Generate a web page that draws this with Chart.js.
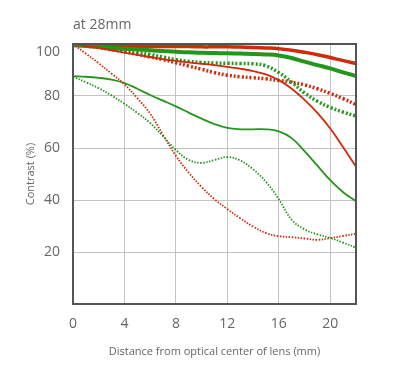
<!DOCTYPE html>
<html>
<head>
<meta charset="utf-8">
<script src="https://cdn.jsdelivr.net/npm/chart.js@4.4.1/dist/chart.umd.min.js"></script>
<style>
  html, body { margin: 0; padding: 0; background: #fff; }
  #wrap { width: 400px; height: 382px; }
</style>
</head>
<body>
<div id="wrap"><canvas id="mtf"></canvas></div>
<script>
// distance from optical center (mm)
const distance = [0, 1, 2, 3, 4, 5, 6, 7, 8, 9, 10, 11, 12, 13, 14, 15, 16, 17, 18, 19, 20, 21, 22];

// contrast (%)
const redThick = [99.5, 99.5, 99.4, 99.3, 99.2, 99.1, 99, 99, 99, 99, 98.9, 98.9, 98.9, 98.8, 98.7, 98.5, 98.2, 97.6, 96.8, 95.9, 94.8, 93.6, 92.5];
const greenThick = [99.5, 99.2, 98.8, 98.5, 98.2, 97.9, 97.6, 97.3, 97, 96.8, 96.6, 96.5, 96.4, 96.3, 96.2, 96, 95.6, 94.6, 93.2, 91.9, 90.6, 89.1, 87.7];
const redThickDot = [100, 99.3, 98.6, 97.8, 97, 96, 95, 94, 92.8, 91.5, 90.3, 89, 88, 87.4, 87, 86.6, 86, 85.3, 84.3, 82.8, 81, 79, 76.7];
const greenThickDot = [100, 99.6, 99.2, 98.5, 97.8, 97, 96, 95, 94, 93.3, 92.9, 92.7, 92.6, 92.5, 92.4, 91.6, 89, 85.3, 81.2, 78, 75.6, 73.8, 72.3];
const redThin = [100, 99.3, 98.5, 97.6, 96.7, 95.8, 95, 94.2, 93.5, 92.9, 92.4, 91.9, 91.2, 90.5, 89.6, 88.3, 86.1, 82.8, 78.5, 73.5, 67.5, 60.3, 52.8];
const greenThin = [87.6, 87.4, 87, 86.3, 85, 82.8, 80.4, 78.2, 76, 73.6, 71.3, 69.2, 67.7, 67.2, 67.2, 67.2, 66.4, 63.8, 58.8, 53.2, 47.6, 43, 39.5];
const redThinDot = [100, 96.3, 92.6, 88.6, 84.5, 79.2, 73.2, 65, 57, 50.5, 45, 40.3, 36.5, 33, 29.8, 27.3, 26.1, 25.7, 25.2, 24.7, 25.3, 26.2, 27];
const greenThinDot = [87.5, 85.3, 83, 80.2, 77, 73.5, 69.6, 64.5, 59.2, 55.4, 54.3, 55.4, 56.5, 55.2, 51.8, 47, 40.3, 32.4, 28.7, 26.8, 25.4, 23.6, 21.7];

const xTicks = [0, 4, 8, 12, 16, 20];
const yTicks = [0, 20, 40, 60, 80, 100];

const RED = '#d02a0c';
const GREEN = '#25961b';
const TEXT = '#666';

const pts = (vals) => vals.map((v, i) => ({ x: distance[i], y: v }));

const line = (vals, color, width, dash) => ({
  data: pts(vals),
  borderColor: color,
  backgroundColor: color,
  borderWidth: width,
  borderDash: dash || [],
  pointRadius: 0,
  fill: false,
  tension: 0.4
});

// title, frame and the top "100" label (sits a bit below its grid line)
const framePlugin = {
  id: 'frame',
  afterDatasetsDraw(chart) {
    const { ctx, chartArea: a } = chart;
    ctx.save();
    ctx.strokeStyle = '#555';
    ctx.lineWidth = 2;
    ctx.strokeRect(a.left, a.top, a.right - a.left, a.bottom - a.top);
    ctx.fillStyle = TEXT;
    ctx.font = '14px "Open Sans"';
    ctx.textBaseline = 'middle';
    ctx.textAlign = 'left';
    ctx.fillText('at 28mm', a.left, 25);
    ctx.textAlign = 'right';
    ctx.fillText('100', a.left - 13, a.top + 8);
    ctx.restore();
  }
};

new Chart(document.getElementById('mtf'), {
  type: 'line',
  data: {
    datasets: [
      line(greenThinDot, GREEN, 1.8, [1.5, 1.5]),
      line(redThinDot, RED, 1.8, [1.5, 1.5]),
      line(greenThin, GREEN, 1.8),
      line(redThin, RED, 1.8),
      line(greenThickDot, GREEN, 3.5, [2, 2]),
      line(redThickDot, RED, 3.5, [2, 2]),
      line(greenThick, GREEN, 4),
      line(redThick, RED, 3.5)
    ]
  },
  options: {
    responsive: true,
    maintainAspectRatio: false,
    animation: false,
    layout: { padding: { top: 44, right: 44, left: 0, bottom: 0 } },
    plugins: {
      legend: { display: false },
      tooltip: { enabled: false }
    },
    scales: {
      x: {
        type: 'linear',
        min: 0,
        max: 22,
        afterBuildTicks: (s) => { s.ticks = xTicks.map((v) => ({ value: v })); },
        afterFit: (s) => { s.height = 78; },
        grid: { color: '#c4c4c4', lineWidth: 1, drawTicks: false },
        border: { display: false },
        ticks: {
          color: TEXT,
          padding: 12,
          font: { family: 'Open Sans', size: 14 }
        },
        title: {
          display: true,
          text: 'Distance from optical center of lens (mm)',
          color: TEXT,
          font: { family: 'Open Sans', size: 11 },
          padding: { top: 0, bottom: 24 }
        }
      },
      y: {
        min: 0,
        max: 100,
        afterBuildTicks: (s) => { s.ticks = yTicks.map((v) => ({ value: v })); },
        afterFit: (s) => { s.width = 73; },
        grid: { color: '#c4c4c4', lineWidth: 1, drawTicks: false },
        border: { display: false },
        ticks: {
          color: TEXT,
          padding: 13,
          font: { family: 'Open Sans', size: 14 },
          callback: (v) => (v === 0 || v === 100 ? '' : v)
        },
        title: {
          display: true,
          text: 'Contrast (%)',
          color: TEXT,
          font: { family: 'Open Sans', size: 11 },
          padding: { top: 24, bottom: 0 }
        }
      }
    }
  },
  plugins: [framePlugin]
});
</script>
</body>
</html>
